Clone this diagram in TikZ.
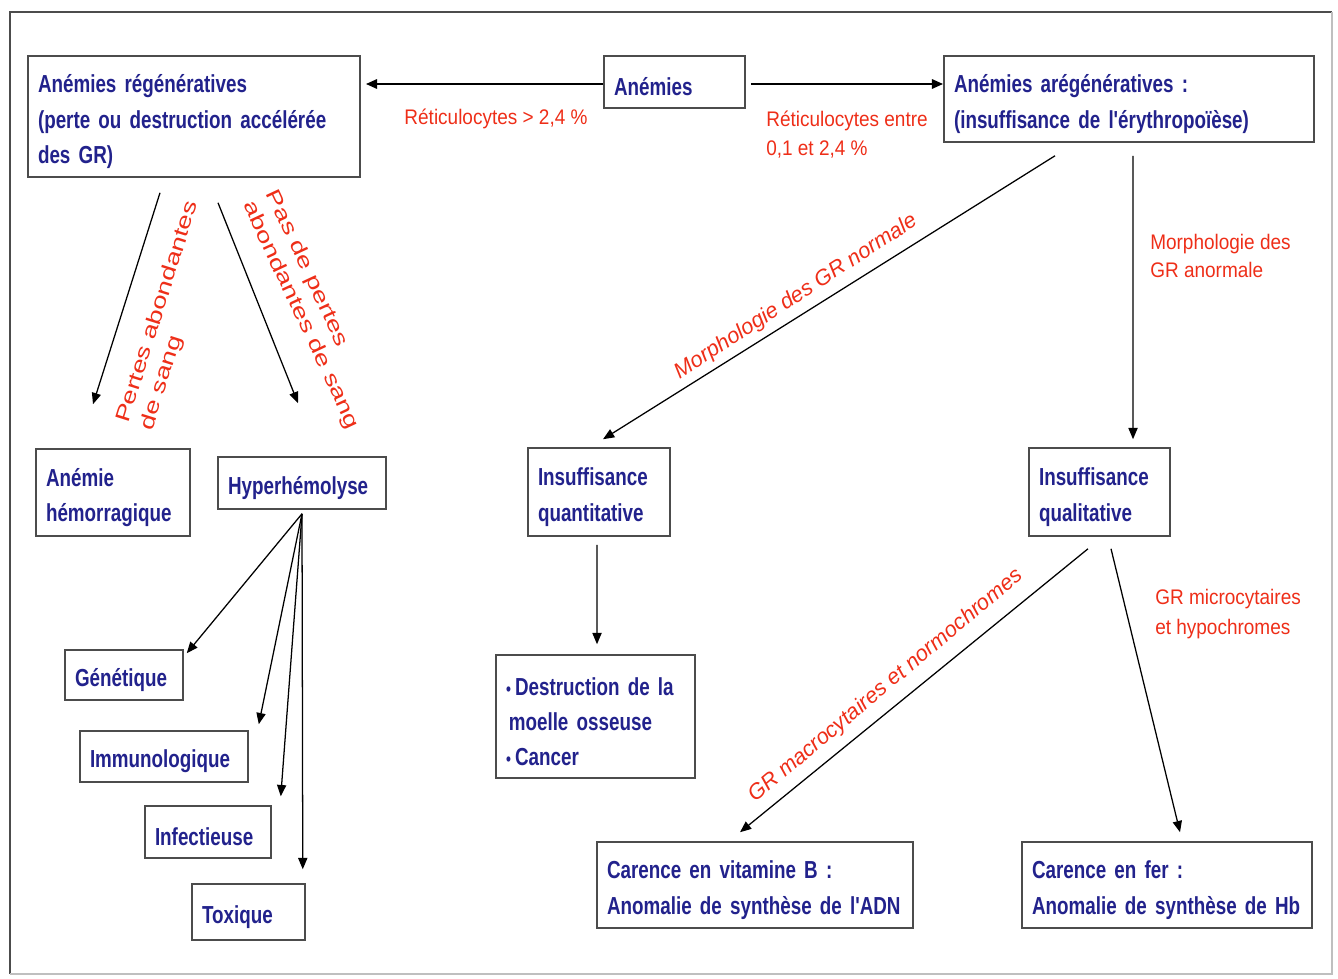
\documentclass[tikz,border=0pt]{standalone}
\usepackage{fontspec}
\setmainfont{Liberation Sans}
\newfontfamily\narrowfont{Liberation Sans}[FakeStretch=0.765, WordSpace=0.7]
\newfontfamily\redfont{Liberation Sans}[FakeStretch=0.9]
\newfontfamily\widefont{Liberation Sans}[FakeStretch=1.35]
\usetikzlibrary{positioning,calc,arrows.meta}
\definecolor{boxblue}{RGB}{34,34,140}
\definecolor{lblred}{RGB}{238,46,24}
\newlength\pxu
\setlength\pxu{0.025cm}
\hyphenpenalty=10000
\exhyphenpenalty=10000
\tikzset{
        x=0.025cm, y=-0.025cm, % one unit = one pixel of the slide
        >={Triangle[length=8pt,width=6.5pt]},
        box/.style={draw=black!70, line width=1.1pt, inner xsep=10\pxu, inner ysep=1pt,
                    text=boxblue, align=left, font=\narrowfont\bfseries\fontsize{17.5}{25}\selectfont,
                    execute at begin node={\rule{0pt}{20pt}}},
        sz/.style 2 args={text width=#1\pxu, minimum height=#2\pxu},
        lbl/.style={text=lblred, inner sep=0pt, align=left, font=\redfont\fontsize{15}{21}\selectfont},
        arr/.style={->, line width=0.9pt},
}
\newcommand\dotitem{{\fontsize{13}{13}\selectfont\textbullet}\,}

\begin{document}
\begin{tikzpicture}
\useasboundingbox (0,0) rectangle (1338,978);
\draw[black!70, line width=1pt] (10,974) -- (10,12) -- (1332,12);
\draw[black!25, line width=1pt] (1332,12) -- (1332,974) -- (10,974);

% boxes
\node[box, sz={312}{121}] (regen) at (194,116.5) {Anémies régénératives\\(perte ou destruction accélérée\\des GR)};
\node[box, sz={121}{52}, execute at begin node={\rule{0pt}{16pt}}] (anem) at (674.5,82) {Anémies};
\node[box, sz={350}{86}] (areg) at (1129,99) {Anémies arégénératives :\\(insuffisance de l'érythropoïèse)};
\node[box, sz={134}{87}] (hemo) at (113,492.5) {Anémie\\hémorragique};
\node[box, sz={148}{52}] (hyper) at (302,483) {Hyperhémolyse};
\node[box, sz={98}{50}] (gen) at (124,675) {Génétique};
\node[box, sz={148}{51}] (immu) at (164,756.5) {Immunologique};
\node[box, sz={106}{52}] (infe) at (208,832) {Infectieuse};
\node[box, sz={93}{56}] (toxi) at (248.5,912) {Toxique};
\node[box, sz={122}{88}] (quant) at (599,492) {Insuffisance\\quantitative};
\node[box, sz={179}{123}] (destr) at (595.5,716.5)
  {\dotitem Destruction de la\\\hspace*{2pt}moelle osseuse\\\dotitem Cancer};
\node[box, sz={121}{88}] (qual) at (1099.5,492) {Insuffisance\\qualitative};
\node[box, sz={296}{86}] (vitb) at (755,885) {Carence en vitamine B :\\\mbox{Anomalie de synthèse de l'ADN}};
\node[box, sz={270}{86}] (fer) at (1167,885) {Carence en fer :\\\mbox{Anomalie de synthèse de Hb}};

% arrows
\draw[arr, line width=1.8pt, shorten >=5\pxu] ($(anem.west)+(0,2)$) -- ($(anem.west -| regen.east)+(0,2)$);
\draw[arr, line width=1.8pt, shorten <=5\pxu] ($(anem.east)+(0,2)$) -- ($(anem.east -| areg.west)+(0,2)$);
\draw[arr] ($(regen.south)+(-34,15)$) -- ($(hemo.north)+(-20,-44)$);
\draw[arr] ($(regen.south)+(24,25)$) -- ($(hyper.north)+(-4,-53)$);
\foreach \t/\dx/\dy in {gen/3/4, immu/10/-6, infe/9/-9, toxi/-3/-14}
  \draw[arr] ($(hyper.south)+(0,4)$) -- ($(\t.north east)+(\dx,\dy)$);
\draw[arr] ($(areg.south)+(-74,13)$) -- ($(quant.north)+(4,-8)$);
\draw[arr] ($(areg.south)+(4,13)$) -- ($(qual.north)+(33.5,-8)$);
\draw[arr] ($(quant.south)+(-2,8)$) -- ($(destr.north)+(1.5,-10)$);
\draw[arr] ($(qual.south)+(-11.5,12)$) -- ($(vitb.north)+(-15,-9)$);
\draw[arr] ($(qual.south)+(11.5,12)$) -- ($(fer.north)+(13,-9)$);

% labels
\node[lbl] (retA) at (496,119) {Réticulocytes > 2,4 \%};
\node[lbl, anchor=west] (retB) at (766,134.5) {Réticulocytes entre\\0,1 et 2,4 \%};
\node[lbl, font=\widefont\fontsize{14.5}{18}\selectfont, rotate=72.5] (pertes) at (170,316) {Pertes abondantes\\de sang};
\node[lbl, font=\widefont\fontsize{14.5}{18}\selectfont, rotate=-65] (paspertes) at (312,310) {Pas de pertes\\abondantes de sang};
\node[lbl, font=\fontsize{15.5}{20}\selectfont\itshape, rotate=33] (morphN) at (796,297) {Morphologie des GR normale};
\node[lbl, anchor=west, font=\redfont\fontsize{15}{20}\selectfont] (morphA) at (1150,256) {Morphologie des\\GR anormale};
\node[lbl, font=\fontsize{15.5}{20}\selectfont\itshape, rotate=40] (macro) at (886,686) {GR macrocytaires et normochromes};
\node[lbl, anchor=west] (micro) at (1155,614) {GR microcytaires\\et hypochromes};
\end{tikzpicture}
\end{document}
